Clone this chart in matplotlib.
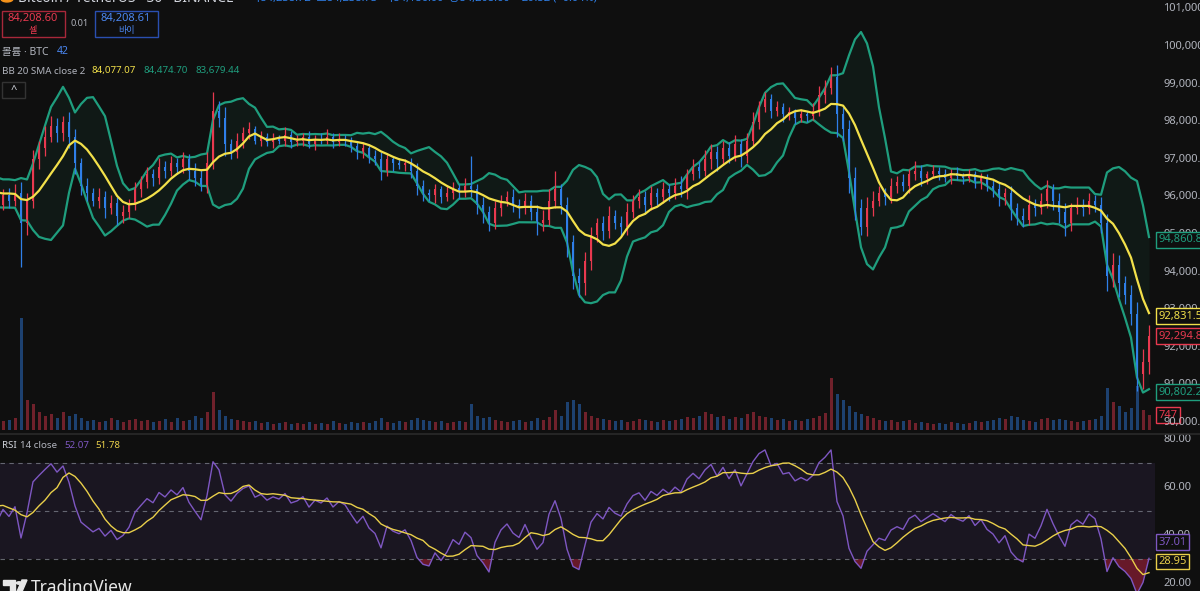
import numpy as np
import pandas as pd
import matplotlib
matplotlib.use('Agg')
import matplotlib.pyplot as plt
from matplotlib.transforms import blended_transform_factory
from matplotlib.lines import Line2D
from matplotlib.patches import Circle, Polygon

plt.rcParams['font.family'] = ['Noto Sans', 'Noto Sans CJK KR', 'DejaVu Sans']

# --- data (one value per ~2 bars, prices in USDT) ---
warmup_closes = [95800, 96300, 95800, 96200, 95900, 96400, 96000, 96300, 95900, 96200, 96400, 96100, 96300, 96000, 95800]

closes = [
    96050, 95900, 96100, 95300, 95900, 97000, 97300, 97600, 97900, 97700, 98000, 97600,
    96900, 96300, 96100, 95900, 96000, 95700, 95850, 95500, 95600, 95800, 96200, 96400,
    96600, 96500, 96800, 96700, 96900, 96800, 97000, 96700, 96500, 96300, 96900, 98300,
    98100, 97400, 97200, 97500, 97700, 97800, 97500, 97600, 97450, 97550, 97500, 97650,
    97450, 97500, 97600, 97400, 97550, 97500, 97600, 97450, 97550, 97500, 97350, 97200,
    97300, 97100, 97000, 96700, 97000, 96900, 96850, 96900, 96700, 96300, 96100, 96050,
    96200, 96000, 96100, 96250, 96150, 96300, 96200, 95800, 95600, 95300, 95700, 95900,
    96000, 95800, 95700, 95900, 95600, 95300, 95400, 95900, 96200, 95800, 94800, 93900,
    93700, 94300, 95000, 95300, 95100, 95500, 95300, 95200, 95600, 95900, 96000, 95800,
    96100, 96000, 96200, 96100, 96300, 96200, 96600, 96800, 96700, 97000, 97200, 97000,
    97300, 97100, 97400, 97100, 97500, 98000, 98400, 98600, 98300, 98400, 98200, 98250,
    98100, 98200, 98150, 98300, 98700, 98900, 99200, 98200, 97800, 96500, 95700, 95200,
    95700, 95900, 96100, 96000, 96300, 96400, 96300, 96600, 96700, 96500, 96600, 96700,
    96600, 96500, 96650, 96550, 96500, 96600, 96400, 96500, 96300, 96200, 96000, 96100,
    95700, 95500, 95400, 95800, 95700, 95900, 96200, 95900, 95600, 95300, 95700, 95800,
    95700, 95900, 95800, 95300, 93900, 94200, 93700, 93400, 92900, 91300, 91600, 92300,
]

wick_up = [
    150, 200, 250, 300, 200, 250, 200, 300, 250, 200, 150, 250,
    200, 150, 200, 150, 250, 150, 200, 150, 200, 150, 200, 150,
    200, 150, 250, 150, 200, 150, 200, 150, 200, 250, 300, 500,
    250, 300, 150, 200, 150, 200, 100, 150, 100, 150, 100, 200,
    100, 150, 100, 150, 100, 150, 200, 100, 150, 100, 100, 150,
    150, 100, 150, 200, 150, 100, 150, 100, 150, 200, 150, 100,
    150, 100, 200, 150, 100, 200, 800, 150, 200, 150, 200, 150,
    150, 200, 150, 200, 150, 200, 250, 300, 500, 150, 200, 200,
    200, 250, 200, 150, 200, 250, 150, 200, 250, 150, 200, 150,
    200, 150, 200, 150, 200, 250, 150, 200, 150, 250, 200, 150,
    200, 150, 250, 150, 200, 250, 150, 200, 150, 150, 100, 150,
    100, 150, 100, 200, 250, 200, 250, 300, 200, 250, 300, 250,
    300, 250, 200, 150, 200, 150, 200, 150, 250, 150, 100, 150,
    100, 150, 100, 150, 100, 150, 100, 150, 100, 150, 200, 150,
    200, 150, 200, 250, 150, 200, 250, 150, 200, 250, 150, 200,
    150, 200, 150, 200, 250, 300, 250, 200, 250, 300, 350, 300,
]

wick_dn = [
    150, 200, 150, 1150, 300, 200, 250, 200, 150, 250, 200, 300,
    300, 250, 200, 150, 200, 250, 150, 250, 200, 150, 150, 200,
    150, 200, 150, 200, 150, 200, 150, 250, 200, 150, 200, 150,
    250, 300, 200, 150, 200, 150, 100, 150, 100, 150, 100, 150,
    150, 100, 150, 100, 150, 100, 100, 150, 100, 150, 150, 200,
    150, 200, 150, 250, 150, 200, 100, 150, 200, 250, 200, 150,
    200, 150, 100, 150, 200, 150, 200, 250, 300, 200, 150, 200,
    150, 200, 250, 150, 200, 300, 200, 150, 200, 250, 400, 350,
    350, 300, 250, 200, 250, 200, 150, 250, 200, 150, 200, 250,
    150, 200, 150, 200, 150, 200, 250, 150, 200, 150, 250, 300,
    150, 200, 150, 300, 200, 150, 200, 150, 200, 150, 200, 150,
    150, 100, 150, 100, 150, 200, 150, 600, 300, 400, 300, 200,
    250, 200, 150, 200, 150, 200, 150, 200, 150, 200, 150, 100,
    150, 100, 150, 100, 150, 100, 150, 200, 150, 200, 250, 200,
    300, 250, 200, 150, 200, 150, 200, 250, 300, 350, 200, 150,
    200, 150, 200, 250, 400, 300, 350, 250, 300, 450, 400, 300,
]

volumes = [
    450, 500, 600, 5600, 1500, 1300, 900, 700, 800, 600, 900, 700,
    800, 600, 450, 500, 400, 450, 600, 500, 400, 500, 550, 450,
    500, 400, 450, 550, 400, 600, 450, 500, 700, 600, 900, 1900,
    1000, 700, 550, 500, 450, 400, 450, 350, 400, 300, 350, 400,
    300, 350, 300, 400, 300, 350, 300, 450, 350, 300, 400, 350,
    400, 350, 450, 600, 400, 350, 450, 400, 500, 600, 500, 450,
    400, 450, 350, 400, 450, 400, 1300, 700, 600, 650, 500, 450,
    400, 450, 500, 400, 450, 600, 500, 650, 1000, 700, 1400, 1500,
    1300, 900, 700, 600, 550, 500, 450, 500, 400, 450, 550, 500,
    450, 400, 500, 450, 500, 550, 650, 600, 700, 900, 800, 650,
    700, 550, 650, 600, 800, 900, 700, 650, 600, 500, 550, 450,
    500, 450, 550, 600, 700, 850, 2600, 1800, 1500, 1200, 900, 800,
    700, 600, 500, 450, 500, 400, 450, 500, 350, 400, 350, 300,
    350, 300, 400, 350, 300, 350, 450, 400, 450, 500, 600, 550,
    700, 650, 500, 450, 400, 550, 600, 500, 550, 500, 450, 400,
    450, 500, 550, 700, 2100, 1400, 1200, 900, 1100, 2200, 1000, 747,
]

price_ticks = [101000, 100000, 99000, 98000, 97000, 96000, 95000, 94000, 93000, 92000, 91000, 90000]
rsi_ticks = [80, 60, 40, 20]

# last-value tags shown on the right scale
bb_upper_last = 94860.8
bb_basis_last = 92831.5
bb_lower_last = 90802.2
close_last = 92294.8
volume_last = 747
rsi_last = 37.01
rsi_ma_last = 28.95

BG = '#0f0f0f'
UP = '#e8394f'
DN = '#2f7fe8'
BAND = '#1f9e7e'
MID = '#f2e04a'
RSI_C = '#7e57c2'
RSI_MA = '#e9cf4a'
TXT = '#b2b5be'

# --- indicators (periods shortened because each value stands for ~2 bars) ---
s = pd.Series(warmup_closes + closes, dtype=float)
n_warm = len(warmup_closes)
x_all = np.arange(-n_warm, len(closes))
basis = s.rolling(8).mean()
dev = s.rolling(8).std(ddof=0)
upper = basis + 2 * dev
lower = basis - 2 * dev

delta = s.diff()
gain = delta.clip(lower=0).ewm(alpha=1 / 12, adjust=True).mean()
loss = (-delta.clip(upper=0)).ewm(alpha=1 / 12, adjust=True).mean()
rsi = 100 - 100 / (1 + gain / loss)
rsi_ma = rsi.rolling(7).mean()

c = np.array(closes, dtype=float)
o = s.shift(1).values[n_warm:]
hi = np.maximum(o, c) + np.array(wick_up)
lo = np.minimum(o, c) - np.array(wick_dn)
x = np.arange(len(closes))
cols = [UP if cc >= oo else DN for oo, cc in zip(o, c)]

# --- figure ---
fig = plt.figure(figsize=(12, 5.91), dpi=100, facecolor=BG)
W, H = 1200, 591
pane_w = 1155 / W
main_rect = [0, 1 - 433 / H, pane_w, 433 / H]
rsi_rect = [0, 0, pane_w, 156 / H]

ax_v = fig.add_axes(main_rect, facecolor=BG)
ax = fig.add_axes(main_rect, facecolor='none')
ax_r = fig.add_axes(rsi_rect, facecolor=BG)
for a in (ax_v, ax, ax_r):
    for sp in a.spines.values():
        sp.set_visible(False)
    a.set_xticks([])
    a.set_yticks([])
    a.set_xlim(-0.5, len(closes) + 0.0)

ax.set_ylim(101000 - (433 - 9) * 1000 / 37.6, 101000 + 9 * 1000 / 37.6)
ax_v.set_ylim(-150, 21500)
ax_r.set_ylim(30 - 32 / 2.4, 70 + 28 / 2.4)

# volume
ax_v.bar(x, volumes, width=0.5, color=cols, alpha=0.45, lw=0)

# bollinger
ax.fill_between(x_all, lower, upper, color=BAND, alpha=0.07, lw=0)
ax.plot(x_all, upper, color=BAND, lw=1.6)
ax.plot(x_all, lower, color=BAND, lw=1.6)

# candles
ax.vlines(x, lo, hi, colors=cols, lw=0.9)
body = np.where(np.abs(c - o) < 30, 30, c - o)
ax.bar(x, body, bottom=o, width=0.45, color=cols, lw=0)
ax.plot(x_all, basis, color=MID, lw=1.6)

# rsi pane
ax_r.axhspan(30, 70, color=RSI_C, alpha=0.1, lw=0)
for lvl in (70, 50, 30):
    ax_r.axhline(lvl, color='#787b86', lw=0.8, ls=(0, (4, 4)), alpha=0.8)
ax_r.fill_between(x_all, rsi, 30, where=rsi < 30, interpolate=True, color='#a3203c', alpha=0.6, lw=0)
ax_r.plot(x_all, rsi, color=RSI_C, lw=1.0)
ax_r.plot(x_all, rsi_ma, color=RSI_MA, lw=1.0)

# right scales
tr = blended_transform_factory(ax.transAxes, ax.transData)
for p in price_ticks:
    ax.text(1.007, p, f'{p:,.1f}', transform=tr, color=TXT, fontsize=8, va='center', ha='left', clip_on=False)
trr = blended_transform_factory(ax_r.transAxes, ax_r.transData)
for v in rsi_ticks:
    ax_r.text(1.007, v, f'{v:.2f}', transform=trr, color=TXT, fontsize=8, va='center', ha='left', clip_on=False)
trv = blended_transform_factory(ax_v.transAxes, ax_v.transData)


def tag(a, t, val, txt, col):
    a.text(1.003, val, txt, transform=t, color=col, fontsize=8, va='center', ha='left', clip_on=False,
           bbox=dict(boxstyle='square,pad=0.22', fc=BG, ec=col, lw=1.0), zorder=5)


tag(ax, tr, bb_upper_last, f'{bb_upper_last:,.1f}', BAND)
tag(ax, tr, bb_basis_last, f'{bb_basis_last:,.1f}', MID)
tag(ax, tr, close_last, f'{close_last:,.1f}', UP)
tag(ax, tr, bb_lower_last, f'{bb_lower_last:,.1f}', BAND)
tag(ax_v, trv, volume_last, str(volume_last), UP)
tag(ax_r, trr, rsi_last, f'{rsi_last:.2f}', RSI_C)
tag(ax_r, trr, rsi_ma_last, f'{rsi_ma_last:.2f}', RSI_MA)

# pane separator
fig.add_artist(Line2D([0, 1], [1 - 434 / H, 1 - 434 / H], color='#2a2a2a', lw=1.2))


def P(px, py):
    return px / W, 1 - py / H


# header (cut at the top edge)
fig.patches.append(Circle(P(7, -1), 6 / W, transform=fig.transFigure, color='#f7931a'))
fig.text(*P(18, -2), 'Bitcoin / TetherUS · 30 · BINANCE', color='#d1d4dc', fontsize=10, va='center')
fig.text(*P(250, -2), '시84,238.72  고84,238.73  저84,186.00  종84,208.60  −29.52 (−0.04%)',
         color=DN, fontsize=8, va='center')

# buy/sell buttons
fig.text(*P(33, 19), '84,208.60', color=UP, fontsize=8, ha='center', va='center')
fig.text(*P(33, 30), '셀', color=UP, fontsize=6.5, ha='center', va='center')
fig.patches.append(plt.Rectangle(P(2, 37), 63 / W, 26 / H, transform=fig.transFigure,
                                 fill=False, ec='#a8283a', lw=1.0))
fig.text(*P(80, 23), '0.01', color=TXT, fontsize=6.5, ha='center', va='center')
fig.text(*P(126, 19), '84,208.61', color='#4a86f0', fontsize=8, ha='center', va='center')
fig.text(*P(126, 30), '바이', color='#4a86f0', fontsize=6.5, ha='center', va='center')
fig.patches.append(plt.Rectangle(P(95, 37), 63 / W, 26 / H, transform=fig.transFigure,
                                 fill=False, ec='#2a4fb0', lw=1.0))

fig.text(*P(2, 52), '볼륨 · BTC', color=TXT, fontsize=7.5, va='center')
fig.text(*P(57, 52), '42', color='#4a86f0', fontsize=7.5, va='center')
fig.text(*P(2, 71), 'BB 20 SMA close 2', color=TXT, fontsize=7, va='center')
fig.text(*P(91, 71), '84,077.07', color=MID, fontsize=7, va='center', weight='bold')
fig.text(*P(143, 71), '84,474.70', color=BAND, fontsize=7, va='center')
fig.text(*P(195, 71), '83,679.44', color=BAND, fontsize=7, va='center')
fig.patches.append(plt.Rectangle(P(2, 98), 23 / W, 16 / H, transform=fig.transFigure,
                                 fill=False, ec='#333333', lw=1.0))
fig.text(*P(13.5, 91), '^', color='#d1d4dc', fontsize=8, ha='center', va='center')

fig.text(*P(2, 445), 'RSI', color='#d1d4dc', fontsize=7, va='center')
fig.text(*P(20, 445), '14 close', color=TXT, fontsize=7, va='center')
fig.text(*P(64, 445), '52.07', color=RSI_C, fontsize=7, va='center')
fig.text(*P(95, 445), '51.78', color=RSI_MA, fontsize=7, va='center', weight='bold')

# TradingView watermark
fig.patches.append(Polygon([P(3, 580), P(15, 580), P(15, 594), P(10, 594), P(10, 585), P(3, 585)],
                           closed=True, transform=fig.transFigure, color='#e6e6e6'))
fig.patches.append(Circle(P(19, 583), 2.5 / W, transform=fig.transFigure, color='#e6e6e6'))
fig.patches.append(Polygon([P(22, 580), P(27, 580), P(21, 594), P(16, 594)],
                           closed=True, transform=fig.transFigure, color='#e6e6e6'))
fig.text(*P(31, 579), 'TradingView', color='#e6e6e6', fontsize=12.5, weight='bold', va='top')

fig.savefig('out.png', dpi=100, facecolor=BG)
